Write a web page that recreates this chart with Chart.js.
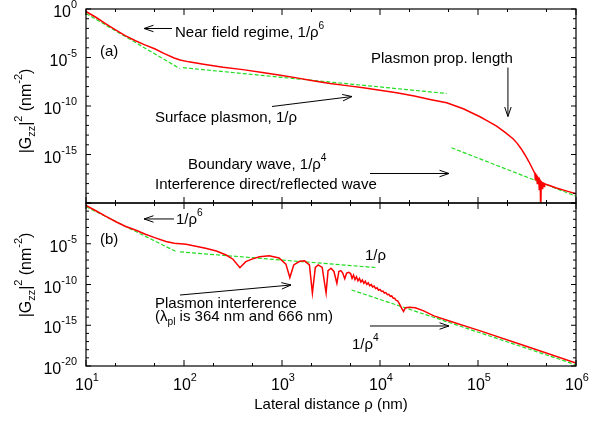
<!DOCTYPE html>
<html>
<head>
<meta charset="utf-8">
<script src="https://cdn.jsdelivr.net/npm/chart.js@4.4.1/dist/chart.umd.min.js"></script>
<style>
  html, body { margin: 0; padding: 0; background: #fff; }
  #wrap { position: relative; width: 613px; height: 424px; }
  #topChart { position: absolute; left: 0; top: 0; }
  #botChart { position: absolute; left: 0; top: 198px; }
</style>
</head>
<body>
<div id="wrap">
  <canvas id="topChart" width="613" height="210"></canvas>
  <canvas id="botChart" width="613" height="226"></canvas>
</div>
<script>
// --- Data ---
// Panel (a): |Gzz|^2 (nm^-2) against lateral distance rho (nm)
const rhoA = [10, 12.6, 15.8, 20, 25.1, 31.6, 39.8, 50.1, 63.1, 79.4,
  91.2, 112, 158, 251, 398, 631, 1000, 1413, 1995, 3090,
  4571, 6761, 10000, 14790, 22390, 32360, 47860, 70790, 104700, 125900,
  154900, 190500, 229100, 251200, 275400, 302000, 331100, 363100, 380200, 384600,
  389000, 398100, 402700, 407400, 416900, 421700, 426600, 431500, 436500, 441600,
  446700, 451900, 457100, 467700, 473200, 478600, 501200, 537000, 631000, 794300,
  1000000];
const gzzA = [0.55, 0.141, 0.0316, 7.08e-3, 1.78e-3, 5.62e-4, 2.0e-4, 7.94e-5, 2.51e-5, 8.91e-6,
  5.62e-6, 3.55e-6, 2.0e-6, 1.0e-6, 5.62e-7, 2.82e-7, 1.41e-7, 7.94e-8, 4.27e-8, 2.09e-8,
  1.26e-8, 7.41e-9, 4.27e-9, 2.29e-9, 1.05e-9, 4.68e-10, 2.14e-10, 5.13e-11, 7.76e-12, 2.82e-12,
  8.32e-13, 1.78e-13, 3.98e-14, 1.41e-14, 3.98e-15, 8.91e-16, 1.78e-16, 2.82e-17, 1.12e-17, 2.51e-18,
  8.91e-18, 6.31e-18, 1.0e-18, 4.47e-18, 3.16e-18, 2.51e-19, 2.51e-18, 2.0e-18, 1e-21, 1.58e-18,
  1.41e-18, 3.16e-19, 1.26e-18, 1.12e-18, 5.01e-19, 1.0e-18, 7.94e-19, 6.31e-19, 3.55e-19, 1.78e-19,
  8.91e-20];

// Panel (a) asymptotes (end points of each dashed segment)
const nearRhoA = [10, 90.2];
const nearGA = [0.347, 7.41e-7];
const plasRhoA = [97.7, 47860];
const plasGA = [8.91e-7, 1.95e-9];
const boundRhoA = [53700, 1000000];
const boundGA = [4.9e-15, 5.01e-20];

// Panel (b)
const rhoB = [10, 12.6, 15.8, 20.2, 25.1, 32.4, 39.8, 50.1, 65.5, 79.4,
  105, 132, 166, 214, 269, 316, 372, 427, 501, 589,
  741, 933, 1096, 1202, 1318, 1514, 1698, 1905, 2042, 2188,
  2344, 2570, 2818, 2951, 3162, 3388, 3631, 3802, 3981, 4169,
  4365, 4571, 4786, 5012, 5188, 5370, 5559, 5754, 5957, 6166,
  6383, 6607, 6839, 7079, 7328, 7586, 7852, 8128, 8414, 8710,
  9016, 9333, 9661, 10000, 10350, 10720, 11090, 11480, 11890, 12300,
  12740, 13180, 13650, 14130, 14620, 15140, 15850, 16600, 17380, 18200,
  19950, 22910, 27540, 35480, 50120, 100000, 316200, 1000000];
const gzzB = [0.525, 0.112, 0.024, 5.01e-3, 1.41e-3, 4.47e-4, 1.58e-4, 5.62e-5, 1.91e-5, 1.17e-5,
  8.51e-6, 5.01e-6, 2.75e-6, 1.26e-6, 4.17e-7, 1.26e-7, 1.15e-8, 6.31e-8, 1.41e-7, 2.51e-7,
  3.47e-7, 1.78e-7, 3.16e-8, 7.08e-10, 2.51e-8, 7.08e-8, 7.94e-8, 2.51e-8, 8.91e-12, 1.26e-8,
  2.51e-8, 1.26e-8, 8.91e-12, 5.01e-9, 1.0e-8, 3.98e-9, 1.41e-10, 3.98e-9, 5.01e-9, 2.51e-9,
  5.01e-10, 2.51e-9, 3.16e-9, 2.24e-9, 5.62e-10, 1.41e-9, 3.98e-10, 8.91e-10, 2.82e-10, 5.62e-10,
  2.0e-10, 3.55e-10, 1.41e-10, 2.51e-10, 1e-10, 1.58e-10, 7.08e-11, 1e-10, 5.01e-11, 6.31e-11,
  3.16e-11, 3.98e-11, 2.0e-11, 2.51e-11, 1.41e-11, 1.58e-11, 8.91e-12, 1e-11, 5.62e-12, 6.31e-12,
  3.55e-12, 3.98e-12, 2.0e-12, 2.0e-12, 1.12e-12, 1e-12, 3.98e-13, 1.26e-13, 5.01e-14, 1.41e-13,
  1.58e-13, 1.41e-13, 6.31e-14, 1.41e-14, 3.55e-15, 2.51e-16, 2.51e-18, 2.24e-20];

// Panel (b) asymptotes
const nearRhoB = [10, 83.2];
const nearGB = [0.355, 1.07e-6];
const plasRhoB = [91.2, 9333];
const plasGB = [1.0e-6, 1.17e-8];
const boundRhoB = [5129, 1000000];
const boundGB = [2.14e-11, 1.41e-20];

// Tick values and labels
const xMajorTicks = [10, 100, 1000, 10000, 100000, 1000000];
const xMajorExp = ['1', '2', '3', '4', '5', '6'];
const xMinorTicks = [20, 50, 200, 500, 2000, 5000, 20000, 50000, 200000, 500000];
const yMajorTicks = [1, 1e-5, 1e-10, 1e-15, 1e-20];
const yMinorTicks = [1e-1, 1e-2, 1e-3, 1e-4, 1e-6, 1e-7, 1e-8, 1e-9, 1e-11, 1e-12,
  1e-13, 1e-14, 1e-16, 1e-17, 1e-18, 1e-19];
const yLabelTicksA = [1, 1e-5, 1e-10, 1e-15];
const yLabelExpA = ['0', '-5', '-10', '-15'];
const yLabelTicksB = [1e-5, 1e-10, 1e-15, 1e-20];
const yLabelExpB = ['-5', '-10', '-15', '-20'];

const FONT = "'Liberation Sans', Arial, Helvetica, sans-serif";
const RED = '#ff0000';
const GREEN = '#22dd22';

// --- Text annotations (anchored in data coordinates, left edge / vertical centre) ---
const panelText = {
  topChart: {
    yTicks: yLabelTicksA, yExp: yLabelExpA, titleY: 111, xLabels: false,
    notes: [
      { x: 81, y: 4.8e-3, parts: [['Near field regime, 1/ρ'], ['6', 'sup']] },
      { x: 13.9, y: 5.25e-5, parts: [['(a)']] },
      { x: 8090, y: 1e-5, parts: [['Plasmon prop. length']] },
      { x: 50.6, y: 8.3e-12, parts: [['Surface plasmon, 1/ρ']] },
      { x: 110, y: 1.18e-16, parts: [['Boundary wave, 1/ρ'], ['4', 'sup']] },
      { x: 50.6, y: 1.02e-18, parts: [['Interference direct/reflected wave']] }
    ],
    arrows: [
      [75.5, 9.8e-3, 39.1, 9.8e-3],
      [202000, 9.3e-7, 202000, 8.3e-12],
      [791, 8.9e-11, 5180, 9.5e-10],
      [7900, 1.1e-17, 50600, 1.1e-17]
    ]
  },
  botChart: {
    yTicks: yLabelTicksB, yExp: yLabelExpB, titleY: 77, xLabels: true,
    notes: [
      { x: 82.8, y: 0.0126, parts: [['1/ρ'], ['6', 'sup']] },
      { x: 13.9, y: 4.4e-5, parts: [['(b)']] },
      { x: 7030, y: 4.8e-7, parts: [['1/ρ']] },
      { x: 50.6, y: 6.2e-13, parts: [['Plasmon interference']] },
      { x: 50.6, y: 1.6e-14, parts: [['(λ'], ['pl', 'sub'], [' is 364 nm and 666 nm)']] },
      { x: 5180, y: 5.8e-18, parts: [['1/ρ'], ['4', 'sup']] }
    ],
    arrows: [
      [79, 0.011, 39.1, 0.011],
      [91, 5.1e-12, 1236, 8.7e-11],
      [7900, 8.1e-16, 50600, 8.1e-16]
    ]
  }
};

function toPoints(xs, ys) {
  return xs.map((x, i) => ({ x: x, y: ys[i] }));
}

// Draws text made of plain / superscript / subscript pieces
function drawRich(ctx, x, y, parts, size, align) {
  const small = size * 0.68;
  const fontFor = kind => (kind ? small : size).toFixed(1) + 'px ' + FONT;
  let width = 0;
  parts.forEach(p => { ctx.font = fontFor(p[1]); width += ctx.measureText(p[0]).width; });
  let cx = x;
  if (align === 'right') cx = x - width;
  if (align === 'center') cx = x - width / 2;
  parts.forEach(p => {
    ctx.font = fontFor(p[1]);
    let dy = 0;
    if (p[1] === 'sup') dy = -size * 0.55;
    if (p[1] === 'sub') dy = size * 0.28;
    ctx.fillText(p[0], cx, y + dy);
    cx += ctx.measureText(p[0]).width;
  });
}

function drawArrow(ctx, x1, y1, x2, y2) {
  const ang = Math.atan2(y2 - y1, x2 - x1);
  const len = 10, spread = 0.33;
  ctx.beginPath();
  ctx.moveTo(x1, y1);
  ctx.lineTo(x2, y2);
  ctx.moveTo(x2 - len * Math.cos(ang - spread), y2 - len * Math.sin(ang - spread));
  ctx.lineTo(x2, y2);
  ctx.lineTo(x2 - len * Math.cos(ang + spread), y2 - len * Math.sin(ang + spread));
  ctx.stroke();
}

// gnuplot-like frame: inward ticks on all four sides, labels, titles and notes
const framePlugin = {
  id: 'gnuFrame',
  afterDraw(chart) {
    const cfg = panelText[chart.canvas.id];
    const ctx = chart.ctx;
    const a = chart.chartArea;
    const xs = chart.scales.x, ys = chart.scales.y;

    ctx.save();
    ctx.strokeStyle = '#000';
    ctx.fillStyle = '#000';
    ctx.lineWidth = 1.2;
    ctx.strokeRect(a.left, a.top, a.right - a.left, a.bottom - a.top);

    ctx.lineWidth = 1;
    ctx.beginPath();
    const xTick = (v, len) => {
      const px = xs.getPixelForValue(v);
      ctx.moveTo(px, a.bottom); ctx.lineTo(px, a.bottom - len);
      ctx.moveTo(px, a.top); ctx.lineTo(px, a.top + len);
    };
    const yTick = (v, len) => {
      const py = ys.getPixelForValue(v);
      ctx.moveTo(a.left, py); ctx.lineTo(a.left + len, py);
      ctx.moveTo(a.right, py); ctx.lineTo(a.right - len, py);
    };
    xMajorTicks.forEach(v => xTick(v, 6));
    xMinorTicks.forEach(v => xTick(v, 3));
    yMajorTicks.forEach(v => yTick(v, 5));
    yMinorTicks.forEach(v => yTick(v, 3));
    ctx.stroke();

    // y tick labels
    ctx.textBaseline = 'alphabetic';
    cfg.yTicks.forEach((v, i) => {
      const py = ys.getPixelForValue(v);
      drawRich(ctx, 77, py + 8, [['10'], [cfg.yExp[i], 'sup']], 16, 'right');
    });

    // x tick labels and axis title (bottom panel only)
    if (cfg.xLabels) {
      xMajorTicks.forEach((v, i) => {
        const px = xs.getPixelForValue(v);
        drawRich(ctx, px + 1, a.bottom + 24, [['10'], [xMajorExp[i], 'sup']], 16, 'center');
      });
      drawRich(ctx, (a.left + a.right) / 2, a.bottom + 43, [['Lateral distance ρ (nm)']], 15, 'center');
    }

    // y axis title
    ctx.save();
    ctx.translate(31, cfg.titleY);
    ctx.rotate(-Math.PI / 2);
    drawRich(ctx, 0, 0, [['|G'], ['zz', 'sub'], ['|'], ['2', 'sup'], [' (nm'], ['-2', 'sup'], [')']], 16, 'center');
    ctx.restore();

    // notes and arrows
    cfg.notes.forEach(n => {
      drawRich(ctx, xs.getPixelForValue(n.x), ys.getPixelForValue(n.y) + 5.5, n.parts, 15, 'left');
    });
    cfg.arrows.forEach(ar => {
      drawArrow(ctx, xs.getPixelForValue(ar[0]), ys.getPixelForValue(ar[1]),
        xs.getPixelForValue(ar[2]), ys.getPixelForValue(ar[3]));
    });
    ctx.restore();
  }
};

function curve(xs, ys) {
  return { data: toPoints(xs, ys), borderColor: RED, borderWidth: 1.5, order: 0 };
}

function asymptote(xs, ys) {
  return { data: toPoints(xs, ys), borderColor: GREEN, borderWidth: 1.2, borderDash: [4, 2], order: 1 };
}

function makePanel(id, datasets, padTop, xHeight) {
  return new Chart(document.getElementById(id), {
    type: 'line',
    data: { datasets: datasets },
    options: {
      responsive: false,
      animation: false,
      events: [],
      layout: { padding: { top: padTop, right: 37, left: 0, bottom: 0 } },
      plugins: { legend: { display: false }, tooltip: { enabled: false } },
      elements: { point: { radius: 0 }, line: { tension: 0 } },
      scales: {
        x: {
          type: 'logarithmic', min: 10, max: 1000000,
          ticks: { display: false }, grid: { display: false }, border: { display: false },
          afterFit: s => { s.height = xHeight; }
        },
        y: {
          type: 'logarithmic', min: 1e-20, max: 1,
          ticks: { display: false }, grid: { display: false }, border: { display: false },
          afterFit: s => { s.width = 86; }
        }
      }
    },
    plugins: [framePlugin]
  });
}

makePanel('topChart', [
  curve(rhoA, gzzA),
  asymptote(nearRhoA, nearGA),
  asymptote(plasRhoA, plasGA),
  asymptote(boundRhoA, boundGA)
], 9, 7);

makePanel('botChart', [
  curve(rhoB, gzzB),
  asymptote(nearRhoB, nearGB),
  asymptote(plasRhoB, plasGB),
  asymptote(boundRhoB, boundGB)
], 5, 58);
</script>
</body>
</html>
